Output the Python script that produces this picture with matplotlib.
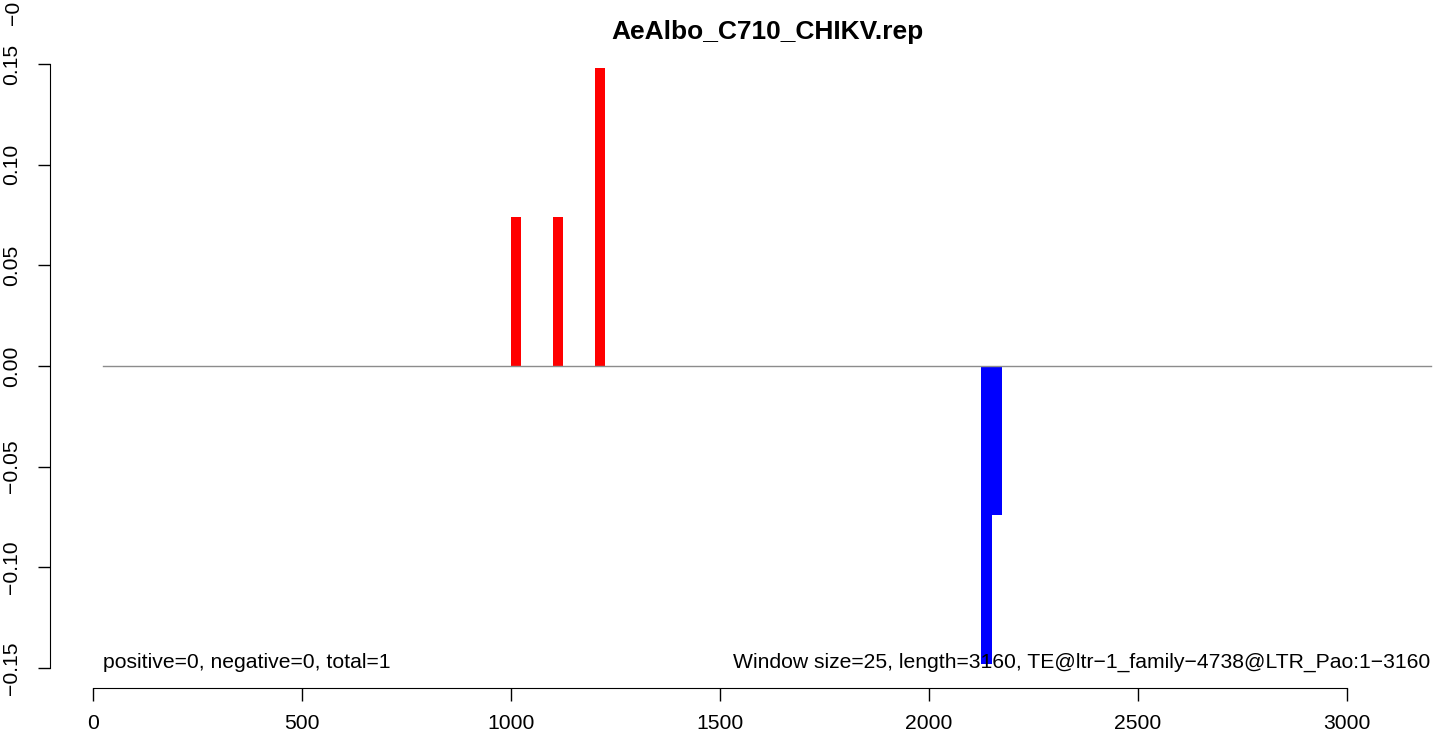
#!/usr/bin/env python3

import numpy as np
from matplotlib import pyplot as plt

plt.rcParams['font.family'] = ['Liberation Sans', 'DejaVu Sans']

title = "AeAlbo_C710_CHIKV.rep"
window = 25
seq_len = 3160

# window start positions and values
pos_starts = [1000, 1100, 1200]
pos_values = [0.0741, 0.0741, 0.1481]
neg_starts = [2125, 2150]
neg_values = [-0.1481, -0.0741]

x_ticks = [0, 500, 1000, 1500, 2000, 2500, 3000]
y_ticks = [-0.15, -0.10, -0.05, 0.00, 0.05, 0.10, 0.15]

left_note = "positive=0, negative=0, total=1"
right_note = "Window size=25, length=3160, TE@ltr\u22121_family\u22124738@LTR_Pao:1\u22123160"

FS = 15.2


def draw_chart():
    W, H = 1439, 740
    fig = plt.figure(figsize=(W / 100, H / 100), dpi=100)
    # R-like plot region (extends past the right edge like the original)
    ax = fig.add_axes([50.4 / W, 1 - 688 / H, (1483.7 - 50.4) / W, (688 - 44) / H])

    ax.bar(pos_starts, pos_values, width=window, align='edge', color='#ff0000', linewidth=0)
    ax.bar(neg_starts, neg_values, width=window, align='edge', color='#0000ff', linewidth=0)
    ax.plot([window, 3200], [0, 0], color='#8c8c8c', lw=1.0)

    ax.set_xlim(-102, 3327)
    ax.set_ylim(-0.16, 0.16)

    for s in ('top', 'right'):
        ax.spines[s].set_visible(False)
    ax.spines['left'].set_bounds(y_ticks[0], y_ticks[-1])
    ax.spines['bottom'].set_bounds(x_ticks[0], x_ticks[-1])

    ax.set_xticks(x_ticks)
    ax.set_xticklabels([str(t) for t in x_ticks])
    ax.set_yticks(y_ticks)
    ax.set_yticklabels([f"{t:.2f}".replace('-', '\u2212') for t in y_ticks],
                       rotation=90, va='center')
    ax.tick_params(axis='x', length=9, width=1, pad=10, labelsize=FS)
    ax.tick_params(axis='y', length=9, width=1, pad=12, labelsize=FS)

    ax.set_title(title, fontsize=19, fontweight='bold', pad=1)

    ax.text(window, -0.15, left_note, ha='left', va='baseline', fontsize=FS)
    ax.text(3200, -0.15, right_note, ha='right', va='baseline', fontsize=FS)

    # stray tick label cut at the top edge in the original
    fig.text(14 / W, 1 - 25 / H, "\u22120", rotation=90, ha='center', va='bottom', fontsize=FS)

    fig.savefig("out.png", dpi=100)


if __name__ == '__main__':
    draw_chart()
